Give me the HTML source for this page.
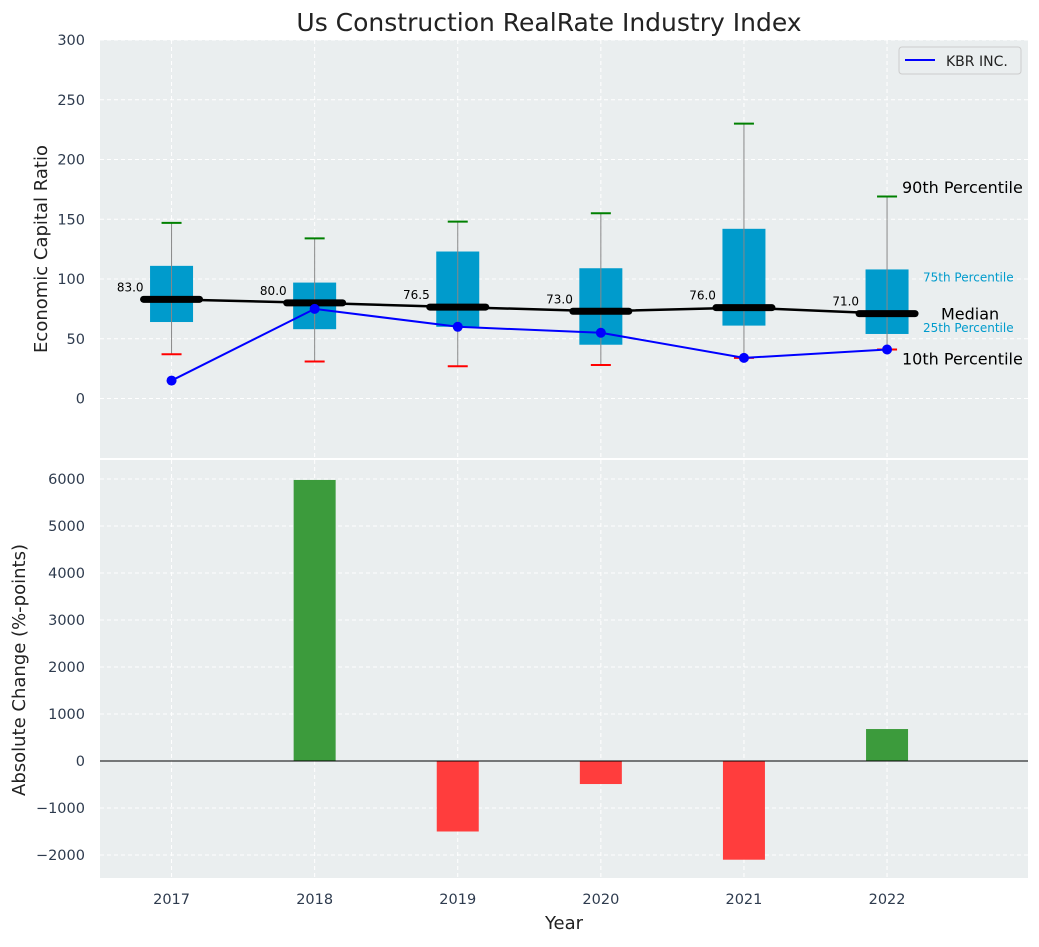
<!DOCTYPE html>
<html><head><meta charset="utf-8"><style>
body{margin:0;background:#fff;font-family:"Liberation Sans","DejaVu Sans",sans-serif}
svg text{font-family:"DejaVu Sans","Liberation Sans",sans-serif}
</style></head><body>
<svg id="c" width="1039" height="942"></svg>
<script>
const years=["2017","2018","2019","2020","2021","2022"];
const p10=[37,31,27,28,34,41];
const p25=[64,58,60,45,61,54];
const med=[83,80,76.5,73,76,71];
const p75=[111,97,123,109,142,108];
const p90=[147,134,148,155,230,169];
const kbr=[15,75,60,55,34,41];
const change=[0,5980,-1500,-490,-2100,680];
const topTicks=[0,50,100,150,200,250,300];
const botTicks=[-2000,-1000,0,1000,2000,3000,4000,5000,6000];

const NS="http://www.w3.org/2000/svg";
const svg=document.getElementById('c');
function el(t,a,p){const e=document.createElementNS(NS,t);for(const k in a)e.setAttribute(k,a[k]);(p||svg).appendChild(e);return e;}
const L=100,R=1028;
const x=i=>L+(i+0.5)*(R-L)/6.485;
const yT=v=>398.5-v*1.195;
const yB=v=>761-v*0.047;

let bg1=el('rect',{x:L,y:40,width:R-L,height:418,fill:'#eaeeef'});

let bg2=el('rect',{x:L,y:460,width:R-L,height:418,fill:'#eaeeef'});


topTicks.forEach(t=>{el('line',{x1:L,x2:R,y1:yT(t),y2:yT(t),stroke:'#fff','stroke-dasharray':'4,3'});
 const tx=el('text',{x:85,y:yT(t)+5,'text-anchor':'end','font-size':14.5,fill:'#2e3b4e'});tx.textContent=t;
 });
botTicks.forEach(t=>{el('line',{x1:L,x2:R,y1:yB(t),y2:yB(t),stroke:'#fff','stroke-dasharray':'4,3'});
 const tx=el('text',{x:85,y:yB(t)+5,'text-anchor':'end','font-size':14.5,fill:'#2e3b4e'});tx.textContent=(t<0?'\u2212'+(-t):t);
 });
years.forEach((yr,i)=>{el('line',{x1:x(i),x2:x(i),y1:40,y2:458,stroke:'#fff','stroke-dasharray':'4,3'});
 el('line',{x1:x(i),x2:x(i),y1:460,y2:878,stroke:'#fff','stroke-dasharray':'4,3'});
 const tx=el('text',{x:x(i),y:904,'text-anchor':'middle','font-size':14.5,fill:'#2e3b4e'});tx.textContent=yr;
 });

years.forEach((yr,i)=>{
 const b=el('rect',{x:x(i)-21.5,y:yT(p75[i]),width:43,height:yT(p25[i])-yT(p75[i]),fill:'#009bcc'});
 
 el('line',{x1:x(i),x2:x(i),y1:yT(p10[i]),y2:yT(p90[i]),stroke:'#888','stroke-width':1});
 el('line',{x1:x(i)-10,x2:x(i)+10,y1:yT(p90[i]),y2:yT(p90[i]),stroke:'green','stroke-width':2});
 el('line',{x1:x(i)-10,x2:x(i)+10,y1:yT(p10[i]),y2:yT(p10[i]),stroke:'red','stroke-width':2});
});
el('polyline',{points:med.map((m,i)=>x(i)+','+yT(m)).join(' '),fill:'none',stroke:'#000','stroke-width':2.5});
years.forEach((yr,i)=>{
 const m=el('line',{x1:x(i)-28,x2:x(i)+28,y1:yT(med[i]),y2:yT(med[i]),stroke:'#000','stroke-width':7,'stroke-linecap':'round'});
 
 const t=el('text',{x:x(i)-28,y:yT(med[i])-8,'text-anchor':'end','font-size':12,fill:'#000'});t.textContent=med[i].toFixed(1);
 
});
const kl=el('polyline',{points:kbr.map((v,i)=>x(i)+','+yT(v)).join(' '),fill:'none',stroke:'blue','stroke-width':2});

kbr.forEach((v,i)=>{const c=el('circle',{cx:x(i),cy:yT(v),r:5,fill:'blue'});
 });
const li=5;
[['90th Percentile',p90[li],16,'#000',902,-3.5],['75th Percentile',p75[li],12,'#009bcc',923,12],['Median',med[li],16,'#000',941,6],['25th Percentile',p25[li],12,'#009bcc',923,-2],['10th Percentile',p10[li],16,'#000',902,15]].forEach(a=>{
 const t=el('text',{x:a[4],y:yT(a[1])+a[5],'font-size':a[2],fill:a[3]});t.textContent=a[0];
 });

years.forEach((yr,i)=>{const v=change[i];
 const r=el('rect',{x:x(i)-21,y:Math.min(yB(v),yB(0)),width:42,height:Math.abs(yB(v)-yB(0)),fill:v>=0?'#3c9b3c':'#ff3d3d'});
 });
el('line',{x1:L,x2:R,y1:yB(0),y2:yB(0),stroke:'#000','stroke-width':1});

const lg=el('g',{});
el('rect',{x:899,y:47,width:122,height:27,fill:'#eaeeef',stroke:'#ccc',rx:3},lg);
el('line',{x1:905,x2:935,y1:60,y2:60,stroke:'blue','stroke-width':2},lg);
const lt=el('text',{x:946,y:66,'font-size':14,fill:'#222'},lg);lt.textContent='KBR INC.';

const tt=el('text',{x:549,y:31,'text-anchor':'middle','font-size':25,fill:'#222'});tt.textContent='Us Construction RealRate Industry Index';

const y1=el('text',{x:47,y:249,'text-anchor':'middle','font-size':18,fill:'#222',transform:'rotate(-90 47 249)'});y1.textContent='Economic Capital Ratio';

const y2=el('text',{x:25,y:670,'text-anchor':'middle','font-size':18,fill:'#222',transform:'rotate(-90 25 670)'});y2.textContent='Absolute Change (%-points)';

const xt=el('text',{x:564,y:929,'text-anchor':'middle','font-size':18,fill:'#222'});xt.textContent='Year';

</script>
</body></html>
